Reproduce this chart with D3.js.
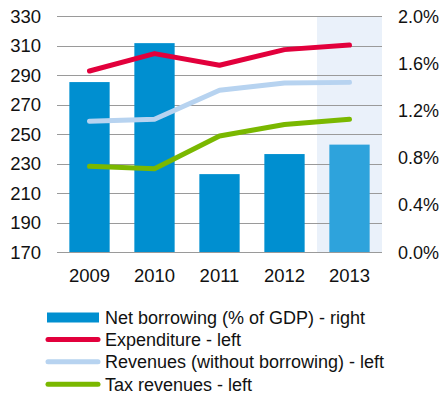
<!DOCTYPE html>
<html>
<head>
<meta charset="utf-8">
<script src="https://cdn.jsdelivr.net/npm/d3@7"></script>
<style>
  body { margin: 0; background: #fff; }
  text { font-family: "Liberation Sans", Arial, sans-serif; fill: #111; }
</style>
</head>
<body>
<div id="chart"></div>
<script>

var years = ["2009", "2010", "2011", "2012", "2013"];
var netBorrowing = [1.44, 1.77, 0.66, 0.83, 0.91];
var expenditure = [292.7, 304.5, 296.6, 307.2, 310.3];
var revenues = [258.6, 260.0, 279.6, 284.6, 285.0];
var taxRevenues = [228.1, 226.5, 248.6, 256.4, 260.0];
var leftTicks = [170, 190, 210, 230, 250, 270, 290, 310, 330];
var rightTicks = [0, 0.4, 0.8, 1.2, 1.6, 2.0];

var margin = { left: 57, right: 61, top: 16, bottom: 142 };
var width = 443 - margin.left - margin.right;
var height = 394 - margin.top - margin.bottom;

var svg = d3.select("#chart")
  .append("svg")
    .attr("width", 443)
    .attr("height", 394);

var g = svg.append("g")
  .attr("transform", "translate(" + margin.left + "," + margin.top + ")");

var xScale = d3.scaleBand()
  .domain(years)
  .range([0, width])
  .paddingInner(0.38)
  .paddingOuter(0.19);

var band = d3.scaleBand().domain(years).range([0, width]);

var yLeft = d3.scaleLinear().domain([170, 330]).range([height, 0]);
var yRight = d3.scaleLinear().domain([0, 2.0]).range([height, 0]);

// forecast shading
g.append("rect")
  .attr("x", band("2013"))
  .attr("y", 0)
  .attr("width", band.bandwidth())
  .attr("height", height)
  .attr("fill", "#eaf1fa");

// grid
g.selectAll(".grid")
  .data(leftTicks).enter()
  .append("line")
  .attr("x1", 0)
  .attr("x2", width)
  .attr("y1", function(d){ return Math.round(yLeft(d)) + 0.5 })
  .attr("y2", function(d){ return Math.round(yLeft(d)) + 0.5 })
  .attr("stroke", "#9a9a9a")
  .attr("stroke-width", 1);

// bars
g.selectAll(".bar")
  .data(netBorrowing).enter()
  .append("rect")
  .attr("x", function(d, i){ return xScale(years[i]) })
  .attr("y", function(d){ return yRight(d) })
  .attr("width", xScale.bandwidth())
  .attr("height", function(d){ return height - yRight(d) })
  .attr("fill", function(d, i){ return i == 4 ? "#2ea3dc" : "#008fd0" });

var lineGen = function(yScale) {
  return d3.line()
    .x(function(d, i){ return xScale(years[i]) + xScale.bandwidth() / 2 })
    .y(function(d){ return yScale(d) });
};

var series = [
  { values: revenues, color: "#b7d3f0" },
  { values: taxRevenues, color: "#7ab800" },
  { values: expenditure, color: "#e2003c" }
];

series.forEach(function(s){
  g.append("path")
    .attr("d", lineGen(yLeft)(s.values))
    .attr("fill", "none")
    .attr("stroke", s.color)
    .attr("stroke-width", 5)
    .attr("stroke-linecap", "round")
    .attr("stroke-linejoin", "round");
});

// left axis labels
g.selectAll(".ltick")
  .data(leftTicks).enter()
  .append("text")
  .attr("x", -16)
  .attr("y", function(d){ return yLeft(d) + 6.5 })
  .attr("text-anchor", "end")
  .style("font-size", "18.5px")
  .text(function(d){ return d });

// right axis labels
g.selectAll(".rtick")
  .data(rightTicks).enter()
  .append("text")
  .attr("x", width + 16)
  .attr("y", function(d){ return yRight(d) + 6.5 })
  .attr("text-anchor", "start")
  .style("font-size", "18px")
  .text(function(d){ return d.toFixed(1) + "%" });

// x labels
g.selectAll(".xtick")
  .data(years).enter()
  .append("text")
  .attr("x", function(d){ return xScale(d) + xScale.bandwidth() / 2 })
  .attr("y", height + 30)
  .attr("text-anchor", "middle")
  .style("font-size", "18.5px")
  .text(function(d){ return d });

// legend
var legendItems = [
  { label: "Net borrowing (% of GDP) - right", color: "#008fd0", type: "bar" },
  { label: "Expenditure - left", color: "#e2003c", type: "line" },
  { label: "Revenues (without borrowing) - left", color: "#b7d3f0", type: "line" },
  { label: "Tax revenues - left", color: "#7ab800", type: "line" }
];

var legend = svg.append("g").attr("transform", "translate(46,317)");

legendItems.forEach(function(d, i){
  var row = legend.append("g").attr("transform", "translate(0," + (i * 22.4) + ")");
  if (d.type == "bar") {
    row.append("rect")
      .attr("x", 1).attr("y", -4.5)
      .attr("width", 52).attr("height", 10)
      .attr("fill", d.color);
  } else {
    row.append("line")
      .attr("x1", 2).attr("x2", 52)
      .attr("y1", 0).attr("y2", 0)
      .attr("stroke", d.color)
      .attr("stroke-width", 5)
      .attr("stroke-linecap", "round");
  }
  row.append("text")
    .attr("x", 59)
    .attr("y", 6.5)
    .style("font-size", "18px")
    .text(d.label);
});

</script>
</body>
</html>
